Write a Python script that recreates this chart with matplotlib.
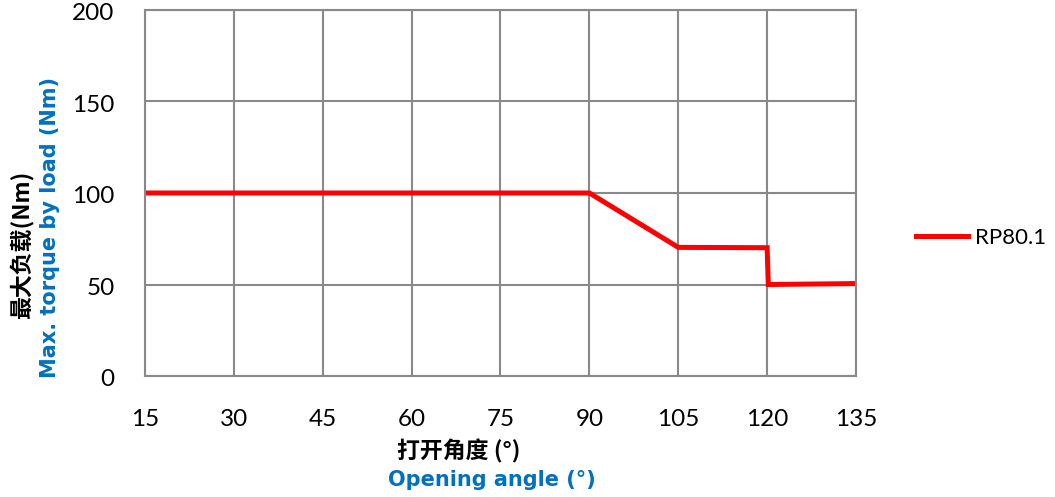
import matplotlib
matplotlib.use("Agg")
import matplotlib.pyplot as plt
import matplotlib.transforms as mtransforms

# data
angle = [15, 90, 105, 120, 120.2, 135]
torque = [100, 100, 70.3, 70.1, 50.0, 50.5]
x_ticks = [15, 30, 45, 60, 75, 90, 105, 120, 135]
y_ticks = [0, 50, 100, 150, 200]
series_name = "RP80.1"

cjk = ["Noto Sans CJK SC", "DejaVu Sans"]
blue = "#0070C0"
grid_c = "#898989"

fig = plt.figure(figsize=(10.55, 4.97), dpi=100)
ax = fig.add_axes([145 / 1055, 1 - 376 / 497, (856 - 145) / 1055, (376 - 10) / 497])

line, = ax.plot(angle, torque, color="#FF0000", lw=3.6, solid_joinstyle="miter", label=series_name)

ax.set_xlim(15, 135)
ax.set_ylim(0, 200)
ax.set_xticks(x_ticks)
ax.set_yticks(y_ticks)
ax.grid(True, color=grid_c, lw=1.5)
ax.set_axisbelow(True)
for s in ax.spines.values():
    s.set_color(grid_c)
    s.set_linewidth(1.5)
ax.tick_params(length=0, labelsize=17.5, colors="black")
ax.tick_params(axis="x", pad=31)
ax.tick_params(axis="y", pad=22)
for lab in ax.get_xticklabels():
    lab.set_family("Lato")
    lab.set_va("center")
shift = mtransforms.ScaledTranslation(0, -4 / 100, fig.dpi_scale_trans)
for lab in ax.get_yticklabels():
    lab.set_family("Lato")
    lab.set_va("center")
    lab.set_transform(lab.get_transform() + shift)

# axis titles (chinese + english, two lines)
fig.text(459 / 1055, 1 - 451 / 497, "打开角度 (°)", family=cjk, fontsize=16.5,
         fontweight="bold", ha="center", va="center", color="black")
fig.text(492 / 1055, 1 - 480 / 497, "Opening angle (°)", family="DejaVu Sans", fontsize=15,
         fontweight="bold", ha="center", va="center", color=blue)
fig.text(21 / 1055, 1 - 245 / 497, "最大负载(Nm)", family=cjk, fontsize=16.5,
         fontweight="bold", ha="center", va="center", rotation=90, color="black")
fig.text(50 / 1055, 1 - 228 / 497, "Max. torque by load (Nm)", family="DejaVu Sans", fontsize=15,
         fontweight="bold", ha="center", va="center", rotation=90, color=blue)

leg = fig.legend(handles=[line], loc="center left", bbox_to_anchor=(916 / 1055, 1 - 238 / 497),
                 frameon=False, borderpad=0, borderaxespad=0, handlelength=2.35,
                 handletextpad=0.3, prop={"family": "Lato", "size": 16})

fig.savefig("out.png", dpi=100)
